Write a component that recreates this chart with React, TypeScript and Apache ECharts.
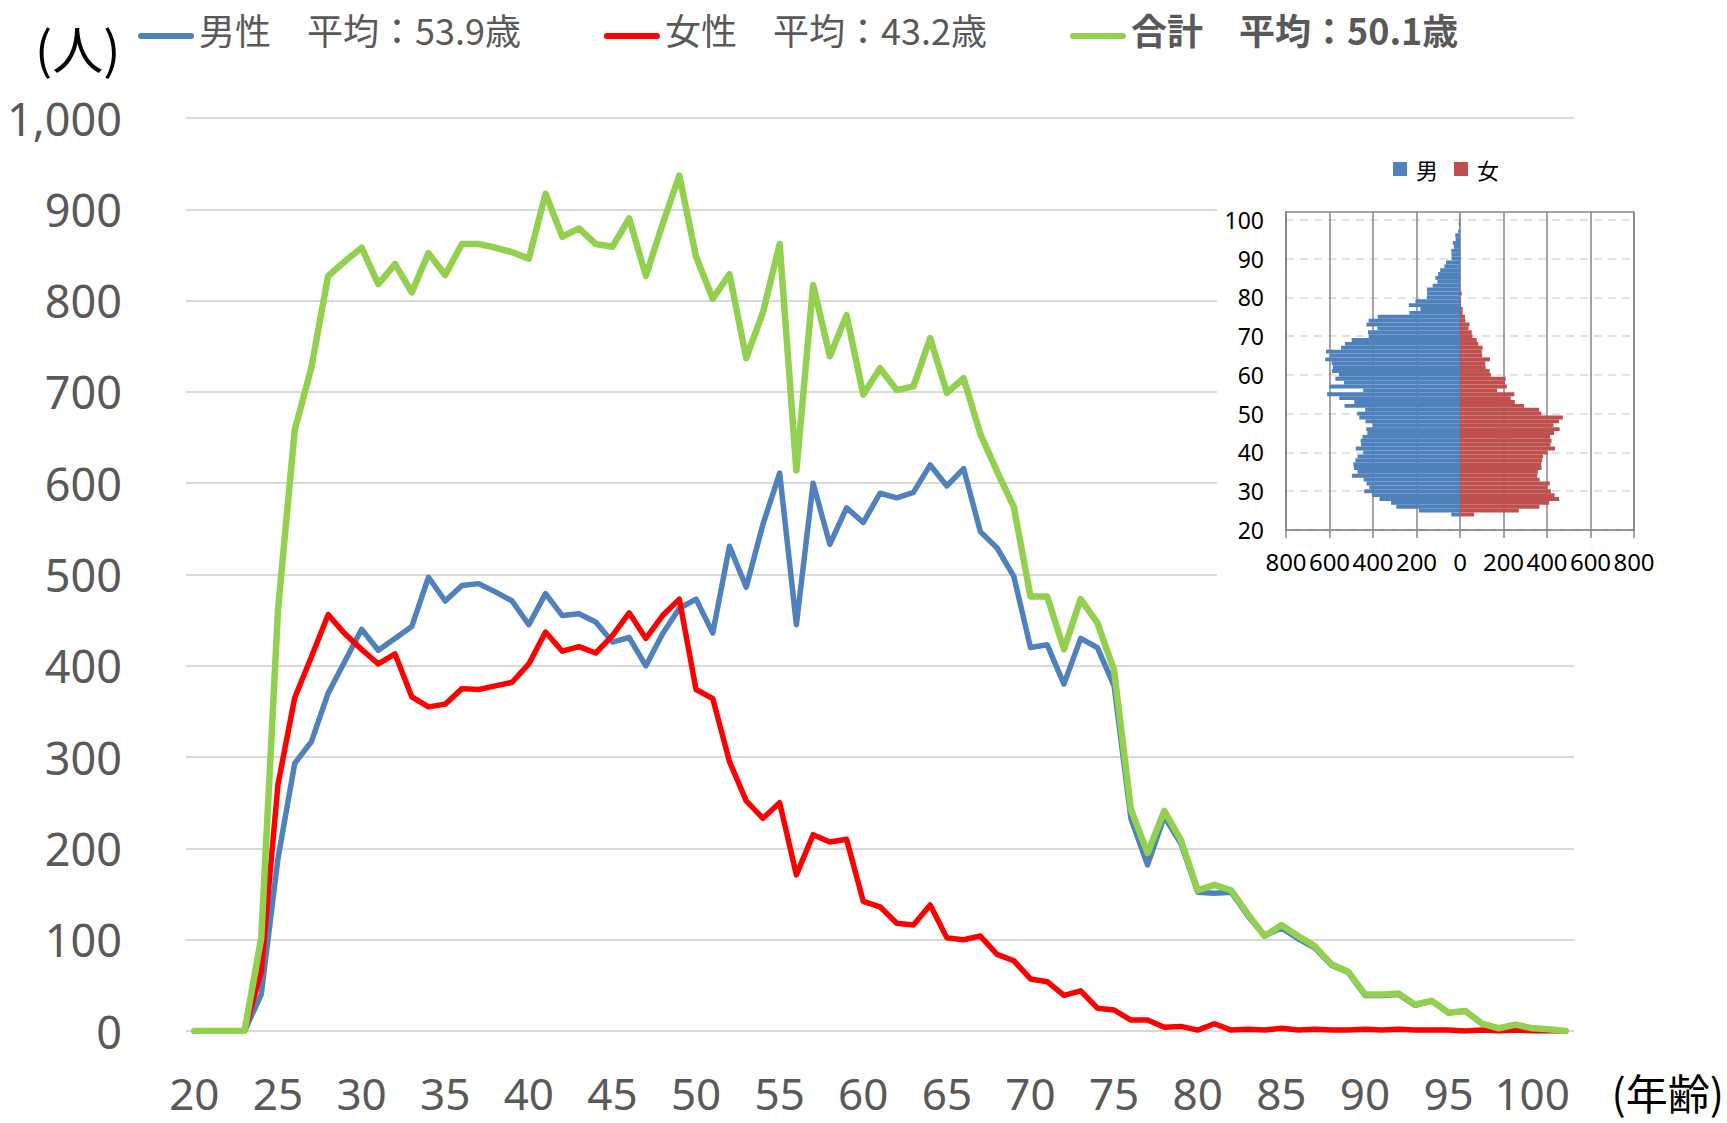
import React, { useEffect, useRef } from "react";
import * as echarts from "echarts";

const ages = [
  "20","21","22","23","24","25","26","27","28","29",
  "30","31","32","33","34","35","36","37","38","39",
  "40","41","42","43","44","45","46","47","48","49",
  "50","51","52","53","54","55","56","57","58","59",
  "60","61","62","63","64","65","66","67","68","69",
  "70","71","72","73","74","75","76","77","78","79",
  "80","81","82","83","84","85","86","87","88","89",
  "90","91","92","93","94","95","96","97","98","99",
  "100","101","102",
];

const male = [
  0, 0, 0, 0, 40, 189, 293, 317, 370, 405,
  440, 417, 430, 443, 497, 471, 488, 490, 481, 471,
  445, 479, 455, 457, 448, 426, 431, 400, 435, 463,
  473, 436, 531, 486, 555, 611, 445, 600, 533, 573,
  557, 589, 584, 590, 620, 597, 616, 547, 529, 498,
  420, 423, 380, 430, 420, 378, 233, 182, 235, 205,
  152, 151, 152, 126, 104, 113, 101, 91, 72, 64,
  39, 39, 40, 28, 33, 20, 22, 8, 3, 6,
  3, 1, 0,
];

const female = [
  0, 0, 0, 0, 65, 270, 365, 410, 456, 435,
  418, 402, 413, 366, 355, 358, 375, 374, 378, 382,
  402, 437, 416, 421, 414, 433, 458, 430, 455, 473,
  374, 364, 295, 252, 233, 250, 171, 215, 207, 210,
  142, 136, 118, 116, 138, 102, 100, 104, 84, 77,
  57, 54, 39, 44, 25, 23, 12, 12, 4, 5,
  1, 8, 1, 2, 1, 3, 1, 2, 1, 1,
  2, 1, 2, 1, 1, 1, 0, 1, 0, 1,
  0, 0, 0,
];

const total = [
  0, 0, 0, 0, 102, 461, 658, 727, 827, 843,
  858, 818, 840, 809, 852, 828, 862, 862, 858, 853,
  846, 917, 870, 879, 862, 859, 890, 827, 884, 937,
  848, 802, 829, 737, 787, 862, 614, 817, 739, 784,
  697, 726, 702, 706, 759, 699, 715, 654, 613, 574,
  476, 476, 418, 473, 447, 395, 243, 195, 241, 209,
  154, 160, 154, 128, 104, 116, 104, 93, 73, 65,
  40, 40, 41, 29, 33, 20, 22, 8, 3, 7,
  3, 2, 0,
];

const maleName = "男性　平均：53.9歳";
const femaleName = "女性　平均：43.2歳";
const totalName = "合計　平均：50.1歳";
const pyramidMale = "男";
const pyramidFemale = "女";
const unitY = "(人)";
const unitX = "(年齢)";

const FONT = "'Noto Sans CJK JP', 'Noto Sans', sans-serif";
const NUMFONT = "'Noto Sans', 'Noto Sans CJK JP', sans-serif";
const BLUE = "#4F81BD";
const RED = "#FF0000";
const GREEN = "#92D050";
const BAR_BLUE = "#4F81BD";
const BAR_RED = "#C0504D";

// legend line icon: a rounded bar sitting in the lower part of its box
const LEGEND_LINE_ICON =
  "path://M28,0L28.01,0L28.01,0.01Z M3,14L53,14A3,3 0 0 1 53,20L3,20A3,3 0 0 1 3,14Z";

export default function App() {
  const ref = useRef<HTMLDivElement>(null);

  useEffect(() => {
    if (!ref.current) return;
    const chart = echarts.init(ref.current, undefined, { renderer: "svg" });

    const lineSeries = (name: string, data: number[], color: string, width: number) => ({
      name,
      type: "line",
      data,
      xAxisIndex: 0,
      yAxisIndex: 0,
      showSymbol: false,
      symbol: "none",
      itemStyle: { color },
      lineStyle: { color, width, join: "round", cap: "round" },
      z: 2,
    });

    const option: any = {
      animation: false,
      backgroundColor: "#ffffff",
      textStyle: { fontFamily: FONT },
      legend: [
        {
          data: [maleName, femaleName, totalName],
          left: 138,
          top: 9,
          padding: 0,
          itemGap: 83,
          itemWidth: 56,
          itemHeight: 20,
          icon: LEGEND_LINE_ICON,
          textStyle: {
            fontSize: 36,
            color: "#595959",
            lineHeight: 40,
            fontFamily: FONT,
            rich: {
              b: { fontSize: 36, fontWeight: "bold", color: "#595959", fontFamily: FONT, lineHeight: 40 },
            },
          },
          formatter: (n: string) => (n === totalName ? `{b|${n}}` : n),
        },
        {
          data: [pyramidMale, pyramidFemale],
          left: 1393,
          top: 158,
          padding: 0,
          itemGap: 16,
          itemWidth: 14,
          itemHeight: 14,
          icon: "rect",
          textStyle: { fontSize: 22, color: "#000000", fontFamily: FONT, padding: [0, 0, 0, 4] },
        },
      ],
      grid: [
        { left: 186, right: 153, top: 118, bottom: 92 },
        {
          left: 1286,
          right: 93,
          top: 212,
          bottom: 593,
          show: true,
          borderColor: "#868686",
          borderWidth: 1.5,
          backgroundColor: "transparent",
          z: 3,
        },
      ],
      xAxis: [
        {
          type: "category",
          gridIndex: 0,
          data: ages,
          boundaryGap: true,
          axisLine: { show: false },
          axisTick: { show: false },
          axisLabel: {
            interval: 4,
            fontSize: 44,
            lineHeight: 44,
            color: "#595959",
            margin: 40,
            fontFamily: NUMFONT,
          },
          splitLine: { show: false },
        },
        {
          type: "value",
          gridIndex: 1,
          min: -800,
          max: 800,
          interval: 200,
          z: 3,
          axisLine: { show: true, lineStyle: { color: "#868686", width: 1.5 } },
          axisTick: { show: true, length: 8, lineStyle: { color: "#868686", width: 1.5 } },
          axisLabel: {
            fontSize: 24,
            color: "#000000",
            margin: 19,
            fontFamily: NUMFONT,
            formatter: (v: number) => String(Math.abs(v)),
          },
          splitLine: { show: true, lineStyle: { color: "#868686", width: 1.5 } },
        },
      ],
      yAxis: [
        {
          type: "value",
          gridIndex: 0,
          min: 0,
          max: 1000,
          interval: 100,
          axisLine: { show: false },
          axisTick: { show: false },
          axisLabel: {
            fontSize: 45,
            color: "#595959",
            margin: 64,
            fontFamily: NUMFONT,
            formatter: (v: number) => v.toLocaleString("en-US"),
          },
          splitLine: { show: true, lineStyle: { color: "#d9d9d9", width: 2 } },
        },
        {
          type: "category",
          gridIndex: 1,
          data: ages,
          boundaryGap: false,
          z: 3,
          axisLine: { show: true, onZero: false, lineStyle: { color: "#868686", width: 1.5 } },
          axisTick: { show: false, interval: 9 },
          axisLabel: {
            interval: 9,
            fontSize: 23,
            color: "#000000",
            margin: 22,
            fontFamily: NUMFONT,
          },
          splitLine: {
            show: true,
            interval: 9,
            lineStyle: { color: "#d9d9d9", width: 1.5, type: [8, 6] },
          },
        },
      ],
      series: [
        lineSeries(maleName, male, BLUE, 5.5),
        lineSeries(femaleName, female, RED, 5.5),
        lineSeries(totalName, total, GREEN, 6.5),
        {
          name: pyramidMale,
          type: "bar",
          xAxisIndex: 1,
          yAxisIndex: 1,
          stack: "pyr",
          barCategoryGap: "0%",
          data: male.map((v) => -v),
          itemStyle: { color: BAR_BLUE },
          z: 4,
        },
        {
          name: pyramidFemale,
          type: "bar",
          xAxisIndex: 1,
          yAxisIndex: 1,
          stack: "pyr",
          barCategoryGap: "0%",
          data: female,
          itemStyle: { color: BAR_RED },
          z: 4,
        },
      ],
      graphic: [
        {
          type: "rect",
          z: 1,
          shape: { x: 1217, y: 130, width: 510, height: 470 },
          style: { fill: "#ffffff" },
        },
        {
          type: "text",
          z: 5,
          x: 35,
          y: 47,
          style: {
            text: unitY,
            fontSize: 51,
            fill: "#000000",
            fontFamily: FONT,
            align: "left",
            verticalAlign: "middle",
          },
        },
        {
          type: "text",
          z: 5,
          x: 1724,
          y: 1091,
          style: {
            text: unitX,
            fontSize: 42,
            fill: "#000000",
            fontFamily: FONT,
            align: "right",
            verticalAlign: "middle",
          },
        },
      ],
    };

    chart.setOption(option);
    return () => chart.dispose();
  }, []);

  return (
    <div
      ref={ref}
      style={{ position: "fixed", left: 0, top: 0, width: 1727, height: 1123 }}
    />
  );
}
